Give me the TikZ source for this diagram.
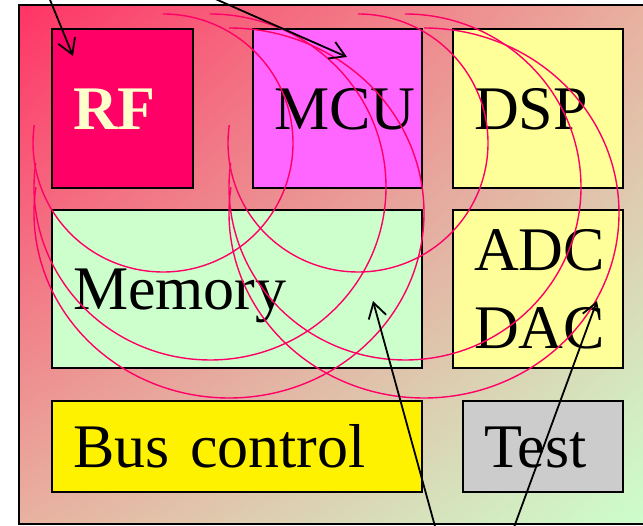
\documentclass[tikz,border=0pt]{standalone}
\usepackage{fontspec}
\setmainfont{Liberation Serif}
\usetikzlibrary{arrows.meta,shadings}
\definecolor{chiptop}{HTML}{FF3366}
\definecolor{chipbot}{HTML}{CCFFCC}
\definecolor{chipmid}{HTML}{E8B2A0}
\definecolor{rfred}{HTML}{FF0066}
\definecolor{rfcream}{HTML}{FFFFCC}
\definecolor{mcupink}{HTML}{FF66FF}
\definecolor{dspyel}{HTML}{FFFF99}
\definecolor{memgreen}{HTML}{CCFFCC}
\definecolor{testgray}{HTML}{CCCCCC}
\tikzset{>={Straight Barb[length=15pt,width=18pt]}}

\begin{document}
\begin{tikzpicture}[x=1pt,y=1pt,
  blk/.style={draw, line width=2pt, anchor=north west, inner xsep=21pt, inner ysep=0pt,
    align=left, font=\fontsize{62}{78}\selectfont},
  one/.style={text height=42pt, text depth=0pt},
  wave/.style={draw=rfred, line width=1.4pt},
  arr/.style={->, line width=1.8pt}]

  \useasboundingbox (0,0) rectangle (643,-526);

  % chip
  \shade[upper left=chiptop, lower right=chipbot, upper right=chipmid,
    lower left=chipmid] (19,-5) rectangle (650,-524);
  \draw[line width=2pt] (650,-5) -- (19,-5) -- (19,-524) -- (650,-524);

  % blocks
  \node[blk, one, fill=rfred, text=rfcream, font=\fontsize{62}{78}\selectfont\bfseries,
    text width=99pt, minimum height=159pt] (rf) at (51,-28) {RF};
  \node[blk, one, fill=mcupink, text width=127pt, minimum height=159pt] (mcu) at (252,-28) {MCU};
  \node[blk, one, fill=dspyel, text width=128pt, minimum height=159pt] (dsp) at (452,-28) {DSP};
  \node[blk, one, fill=memgreen, text width=328pt, minimum height=158pt] (mem) at (51,-209) {Memory};
  \node[blk, fill=dspyel, text width=128pt, minimum height=158pt] (adc) at (452,-209) {ADC\\DAC};
  \node[blk, one, fill=yellow, text width=328pt, minimum height=91pt] (bus) at (51,-400) {Bus control};
  \node[blk, one, fill=testgray, text width=118pt, minimum height=91pt] (test) at (462,-400) {Test};

  % radio waves
  \draw[wave] (163,-14) arc[start angle=90, end angle=-188, x radius=130pt, y radius=129pt];
  \draw[wave] (210,-14) arc[start angle=90, end angle=-188, x radius=176pt, y radius=173pt];
  \draw[wave] (229,-28) arc[start angle=90, end angle=-188, x radius=195pt, y radius=185pt];
  \draw[wave] (358,-14) arc[start angle=90, end angle=-188, x radius=130pt, y radius=129pt];
  \draw[wave] (405,-14) arc[start angle=90, end angle=-188, x radius=176pt, y radius=173pt];
  \draw[wave] (424,-28) arc[start angle=90, end angle=-188, x radius=195pt, y radius=185pt];

  % pins
  \coordinate (rfsrc) at (46,10);
  \coordinate (rfin) at (73,-56);
  \coordinate (mcusrc) at (195,10);
  \coordinate (mcuin) at (347,-57);
  \coordinate (memsrc) at (436,-530);
  \coordinate (memin) at (373,-301);
  \coordinate (adcsrc) at (513,-530);
  \coordinate (adcin) at (597,-301);
  \draw[arr] (rfsrc) -- (rfin);
  \draw[arr] (mcusrc) -- (mcuin);
  \draw[arr] (memsrc) -- (memin);
  \draw[arr] (adcsrc) -- (adcin);

\end{tikzpicture}
\end{document}
